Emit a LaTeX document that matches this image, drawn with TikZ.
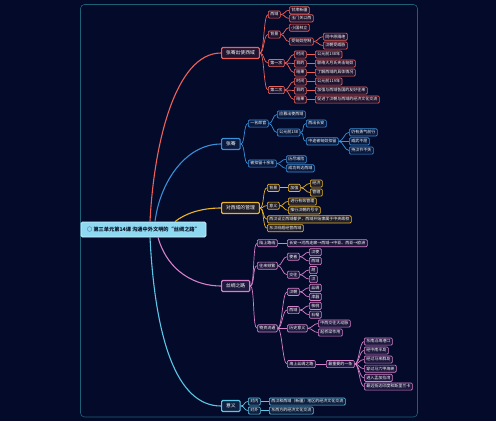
\documentclass[tikz,border=0pt]{standalone}
\usepackage{fontspec}
\usepackage{xcolor}
\usetikzlibrary{positioning,calc}
\newfontfamily\cjk{Noto Sans CJK SC}
\definecolor{bg}{RGB}{4,10,42}
\definecolor{framecol}{RGB}{30,96,118}
\definecolor{zred}{RGB}{240,96,90}
\definecolor{zblue}{RGB}{58,143,214}
\definecolor{zgold}{RGB}{233,180,37}
\definecolor{zpink}{RGB}{213,128,200}
\definecolor{zcyan}{RGB}{92,198,230}
\definecolor{rootfill}{RGB}{143,216,242}
\definecolor{rootedge}{RGB}{205,242,252}
\definecolor{rootink}{RGB}{8,20,40}
\tikzset{
  leaf/.style  = {draw=#1, fill=#1!12!bg, rounded corners=1.2pt, line width=0.7pt,
                  text=white, font=\cjk\fontsize{4}{4}\selectfont, anchor=west,
                  inner xsep=2pt, inner ysep=1.6pt, text height=3.3pt, text depth=0.7pt},
  topic/.style = {leaf=#1, line width=1.1pt, font=\cjk\fontsize{4.8}{4.8}\selectfont,
                  inner xsep=4.5pt, inner ysep=3pt, text height=4pt, text depth=1pt},
  link/.style  = {draw=#1, line width=0.7pt,
                  to path={.. controls ([xshift=4.5pt]\tikztostart) and ([xshift=-4.5pt]\tikztotarget) .. (\tikztotarget)}},
  trunk/.style = {draw=#1, line width=1.1pt}
}
\begin{document}
\begin{tikzpicture}[x=1pt, y=-1pt]
  \useasboundingbox[fill=bg] (0,0) rectangle (496,421);
  \draw[framecol, line width=0.6pt, rounded corners=4pt] (80.5,4.5) rectangle (417.5,417);

  % Central topic
  \node[draw=rootedge, fill=rootfill, rounded corners=1.5pt, line width=0.8pt, text=rootink,
        font=\cjk\bfseries\fontsize{5.2}{5.2}\selectfont, inner xsep=4pt,
        minimum height=15pt, minimum width=125pt] (root) at (143.5,229.5)
        {○ 第三单元第14课 沟通中外文明的“丝绸之路”};

  % Main topics
  \node[topic=zred]  (zq) at (221,53)  {张骞出使西域};
  \node[topic=zblue] (zh) at (221,144) {张骞};
  \node[topic=zgold] (gl) at (221,208) {对西域的管理};
  \node[topic=zpink] (sl) at (221,286) {丝绸之路};
  \node[topic=zcyan] (yy) at (221,406) {意义};

  \draw[trunk=zred]  ([xshift=6.5pt]root.north)  .. controls +(4,-80) and +(-45,0) .. (zq.west);
  \draw[trunk=zblue] ([xshift=11.5pt]root.north) .. controls +(5,-40) and +(-35,0) .. (zh.west);
  \draw[trunk=zgold] ([xshift=31.5pt]root.north) .. controls +(10,-8) and +(-20,0) .. (gl.west);
  \draw[trunk=zpink] ([xshift=14.5pt]root.south) .. controls +(10,35) and +(-25,0) .. (sl.west);
  \draw[trunk=zcyan] ([xshift=6.5pt]root.south)  .. controls +(5,100) and +(-45,0) .. (yy.west);

  % Zhang Qian's missions
  \node[leaf=zred] (zq-xy) at (268,14.5) {西域};
  \node[leaf=zred] (zq-bj) at (268,34.5) {背景};
  \node[leaf=zred] (zq-d1) at (268,63)   {第一次};
  \node[leaf=zred] (zq-d2) at (268,90)   {第二次};
  \node[leaf=zred] (xy-a)  at (289,10.3) {甘肃新疆};
  \node[leaf=zred] (xy-b)  at (289,18.3) {玉门关以西};
  \node[leaf=zred] (bj-a)  at (289,27.7) {小国林立};
  \node[leaf=zred] (bj-b)  at (289,41.5) {受匈奴控制};
  \node[leaf=zred] (bj-b1) at (323,36.7) {同中原隔绝};
  \node[leaf=zred] (bj-b2) at (323,45.5) {汉朝受威胁};
  \node[leaf=zred] (d1-t)  at (294,54.5) {时间};
  \node[leaf=zred] (d1-m)  at (294,63.5) {目的};
  \node[leaf=zred] (d1-j)  at (294,72.5) {结果};
  \node[leaf=zred] (d1-t1) at (315,54.5) {公元前138年};
  \node[leaf=zred] (d1-m1) at (315,63.5) {联络大月氏夹击匈奴};
  \node[leaf=zred] (d1-j1) at (315,72.5) {了解西域的具体情况};
  \node[leaf=zred] (d2-t)  at (294,81.5) {时间};
  \node[leaf=zred] (d2-m)  at (294,90.5) {目的};
  \node[leaf=zred] (d2-j)  at (294,99.5) {结果};
  \node[leaf=zred] (d2-t1) at (315,81.5) {公元前119年};
  \node[leaf=zred] (d2-m1) at (315,90.5) {加强与西域各国的友好往来};
  \node[leaf=zred] (d2-j1) at (315,99.5) {促进了汉朝与西域的经济文化交流};
  \foreach \a/\b in {zq/zq-xy, zq/zq-bj, zq/zq-d1, zq/zq-d2, zq-xy/xy-a, zq-xy/xy-b,
                     zq-bj/bj-a, zq-bj/bj-b, bj-b/bj-b1, bj-b/bj-b2,
                     zq-d1/d1-t, zq-d1/d1-m, zq-d1/d1-j, d1-t/d1-t1, d1-m/d1-m1, d1-j/d1-j1,
                     zq-d2/d2-t, zq-d2/d2-m, zq-d2/d2-j, d2-t/d2-t1, d2-m/d2-m1, d2-j/d2-j1}
    \draw[link=zred] (\a.east) to (\b.west);

  % Zhang Qian himself
  \node[leaf=zblue] (zh-lg)  at (248,123.5) {一名郎官};
  \node[leaf=zblue] (zh-kl)  at (248,163.5) {被扣留十余年};
  \node[leaf=zblue] (lg-a)   at (277,114.5) {应募出使西域};
  \node[leaf=zblue] (lg-b)   at (277,132.5) {公元前138};
  \node[leaf=zblue] (lg-b1)  at (306,123.5) {西出长安};
  \node[leaf=zblue] (lg-b2)  at (306,141.3) {中途被匈奴扣留};
  \node[leaf=zblue] (kl-a)   at (349,132.3) {仍有勇气前行};
  \node[leaf=zblue] (kl-b)   at (349,141.3) {威武不屈};
  \node[leaf=zblue] (kl-c)   at (349,150.5) {持汉节不失};
  \node[leaf=zblue] (zh-kl1) at (286,159.3) {历尽艰险};
  \node[leaf=zblue] (zh-kl2) at (286,168.3) {成功到达西域};
  \foreach \a/\b in {zh/zh-lg, zh/zh-kl, zh-lg/lg-a, zh-lg/lg-b, lg-b/lg-b1, lg-b/lg-b2,
                     lg-b2/kl-a, lg-b2/kl-b, lg-b2/kl-c, zh-kl/zh-kl1, zh-kl/zh-kl2}
    \draw[link=zblue] (\a.east) to (\b.west);

  % Governing the Western Regions
  \node[leaf=zgold] (gl-bj) at (267,187.8) {背景};
  \node[leaf=zgold] (gl-yy) at (267,205.7) {意义};
  \node[leaf=zgold] (gl-dh) at (267,219.3) {西汉设立西域都护，西域开始隶属于中央政权};
  \node[leaf=zgold] (gl-bc) at (267,228.2) {东汉班超经营西域};
  \node[leaf=zgold] (bj-jq) at (288,187.8) {加强};
  \node[leaf=zgold] (jq-a)  at (310,183.5) {经济};
  \node[leaf=zgold] (jq-b)  at (310,192.5) {管辖};
  \node[leaf=zgold] (yy-a)  at (288,201.5) {进行有效管理};
  \node[leaf=zgold] (yy-b)  at (288,210.3) {推行汉朝的号令};
  \foreach \a/\b in {gl/gl-bj, gl/gl-yy, gl/gl-dh, gl/gl-bc, gl-bj/bj-jq, bj-jq/jq-a, bj-jq/jq-b,
                     gl-yy/yy-a, gl-yy/yy-b}
    \draw[link=zgold] (\a.east) to (\b.west);

  % Silk Road
  \node[leaf=zpink] (sl-lx) at (257,243.2) {陆上路线};
  \node[leaf=zpink] (sl-wl) at (257,265.7) {往来频繁};
  \node[leaf=zpink] (sl-wz) at (257,328.3) {物资流通};
  \node[leaf=zpink] (lx-a)  at (287,243.2) {长安→河西走廊→西域→中亚、西亚→欧洲};
  \node[leaf=zpink] (wl-sz) at (287,256.7) {使者};
  \node[leaf=zpink] (wl-jw) at (287,274.7) {交往};
  \node[leaf=zpink] (sz-a)  at (309,252.2) {汉使};
  \node[leaf=zpink] (sz-b)  at (309,261)   {西域};
  \node[leaf=zpink] (jw-a)  at (309,270)   {胡};
  \node[leaf=zpink] (jw-b)  at (309,279)   {汉};
  \node[leaf=zpink] (wz-hc) at (287,291.8) {汉朝};
  \node[leaf=zpink] (wz-xy) at (287,310)   {西域};
  \node[leaf=zpink] (wz-ls) at (287,328.3) {历史意义};
  \node[leaf=zpink] (wz-hs) at (287,364)   {海上丝绸之路};
  \node[leaf=zpink] (hc-a)  at (309,287.8) {丝绸};
  \node[leaf=zpink] (hc-b)  at (309,296.8) {漆器};
  \node[leaf=zpink] (xy-c)  at (309,305.8) {核桃};
  \node[leaf=zpink] (xy-d)  at (309,314.7) {石榴};
  \node[leaf=zpink] (ls-a)  at (318,323.5) {中西交往大动脉};
  \node[leaf=zpink] (ls-b)  at (318,332.5) {起桥梁作用};
  \node[leaf=zpink] (hs-a)  at (326,364)   {最重要的一条};
  \node[leaf=zpink] (hx-1)  at (364,341.5) {东南沿海港口};
  \node[leaf=zpink] (hx-2)  at (364,350.5) {经中南半岛};
  \node[leaf=zpink] (hx-3)  at (364,359.5) {经过马来群岛};
  \node[leaf=zpink] (hx-4)  at (364,368.7) {穿过马六甲海峡};
  \node[leaf=zpink] (hx-5)  at (364,377.8) {进入孟加拉湾};
  \node[leaf=zpink] (hx-6)  at (364,386.5) {最远抵达印度和斯里兰卡};
  \foreach \a/\b in {sl/sl-lx, sl/sl-wl, sl/sl-wz, sl-lx/lx-a, sl-wl/wl-sz, sl-wl/wl-jw,
                     wl-sz/sz-a, wl-sz/sz-b, wl-jw/jw-a, wl-jw/jw-b,
                     sl-wz/wz-hc, sl-wz/wz-xy, sl-wz/wz-ls, sl-wz/wz-hs,
                     wz-hc/hc-a, wz-hc/hc-b, wz-xy/xy-c, wz-xy/xy-d, wz-ls/ls-a, wz-ls/ls-b,
                     wz-hs/hs-a, hs-a/hx-1, hs-a/hx-2, hs-a/hx-3, hs-a/hx-4, hs-a/hx-5, hs-a/hx-6}
    \draw[link=zpink] (\a.east) to (\b.west);

  % Significance
  \node[leaf=zcyan] (yy-dn)  at (248,401.5) {对内};
  \node[leaf=zcyan] (yy-dw)  at (248,410.5) {对外};
  \node[leaf=zcyan] (yy-dn1) at (269,401.5) {西汉和西域（新疆）地区的经济文化交流};
  \node[leaf=zcyan] (yy-dw1) at (269,410.5) {东西方的经济文化交流};
  \foreach \a/\b in {yy/yy-dn, yy/yy-dw, yy-dn/yy-dn1, yy-dw/yy-dw1}
    \draw[link=zcyan] (\a.east) to (\b.west);
\end{tikzpicture}
\end{document}
